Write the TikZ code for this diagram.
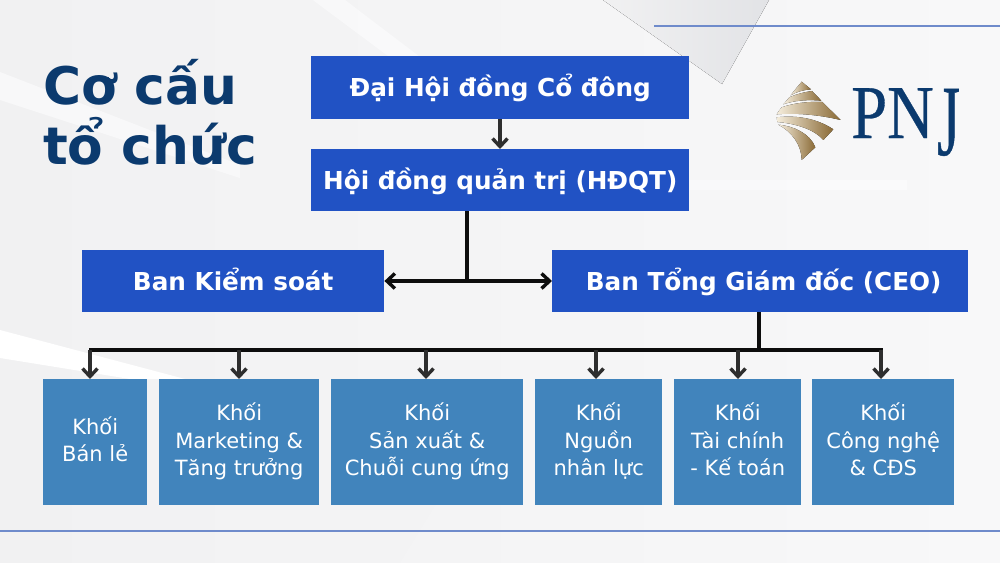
\documentclass[tikz,border=0pt]{standalone}
\usepackage{fontspec}
\setmainfont{DejaVu Sans}
\newfontfamily\logofont{Liberation Serif}
\usetikzlibrary{arrows.meta,calc}
\definecolor{bgl}{HTML}{F1F1F2}
\definecolor{bgr}{HTML}{F8F8F9}
\definecolor{bgwhite}{HTML}{FCFCFD}
\definecolor{bgshade}{HTML}{E2E3E6}
\definecolor{navy}{HTML}{0B3A6E}
\definecolor{royal}{HTML}{2152C4}
\definecolor{steel}{HTML}{4184BC}
\definecolor{rule}{HTML}{6F8BCB}
\definecolor{goldd}{HTML}{8A6A36}
\definecolor{goldl}{HTML}{F5EDDC}
\tikzset{
  topbox/.style={fill=royal,text=white,font=\fontsize{24.7}{30}\selectfont\bfseries,anchor=north west,inner sep=0pt,align=center,execute at begin node={\rule[-6pt]{0pt}{30pt}}},
  unitbox/.style={fill=steel,text=white,font=\fontsize{21}{27.5}\selectfont,anchor=north west,inner sep=0pt,align=center,execute at begin node={\rule{0pt}{21.2pt}},execute at end node={\rule[-5.7pt]{0pt}{0pt}}},
  conn/.style={line width=3.8pt,draw=black!95},
  arr/.style={line width=4pt,draw=black!82,-{Straight Barb[length=8pt,width=15pt,line width=3.4pt]}},
  dblarr/.style={line width=4pt,draw=black!95,{Straight Barb[length=8pt,width=15pt,line width=3.4pt]}-{Straight Barb[length=8pt,width=15pt,line width=3.4pt]}},
  hair/.style={line width=1.4pt,draw=rule},
  band/.style={left color=goldl,right color=goldd,draw=none},
  glow/.style={fill=bgwhite,opacity=0.65}
}
\begin{document}
\begin{tikzpicture}[x=1pt,y=-1pt]
\useasboundingbox (0,0) rectangle (1000,562);
% background
\fill[left color=bgl,right color=bgr] (0,0) rectangle (1000,562);
\fill[glow] (313,0) -- (345,0) -- (432,66) -- (412,74) -- cycle;
\fill[glow] (0,72) -- (240,165) -- (240,178) -- (0,100) -- cycle;
\fill[white] (0,330) -- (185,379) -- (130,379) -- (0,358) -- cycle;
\fill[left color=bgl,right color=bgshade] (603,0) -- (769,0) -- (722,84) -- cycle;
\fill[glow] (690,180) -- (907,180) -- (907,190) -- (690,190) -- cycle;
\fill[bgl!70!bgr] (350,505) -- (435,505) -- (400,562) -- (300,562) -- cycle;
% rules
\coordinate (r1a) at (654,26); \coordinate (r1b) at (1000,26);
\coordinate (r2a) at (0,531); \coordinate (r2b) at (1000,531);
\draw[hair] (r1a) -- (r1b);
\draw[hair] (r2a) -- (r2b);
% title
\node[anchor=west,text=navy,font=\fontsize{51.8}{60}\selectfont\bfseries,align=left,inner sep=0pt] (title) at (43,112) {Cơ cấu\\tổ chức};
% logo
\begin{scope}[shift={(750,60)},x=0.3333pt,y=-0.3333pt]
\fill[band] (155,65) -- (183,88) .. controls (160,90) and (140,95) .. (122,106) .. controls (132,92) and (145,78) .. (155,65) -- cycle;
\fill[band] (186,93) -- (214,122) .. controls (170,118) and (130,122) .. (100,133) .. controls (108,125) and (112,118) .. (118,112) .. controls (140,102) and (165,96) .. (186,93) -- cycle;
\fill[band] (217,126) -- (272,180) .. controls (210,165) and (140,158) .. (80,163) .. controls (85,155) and (90,148) .. (95,142) .. controls (135,128) and (180,124) .. (217,126) -- cycle;
\fill[band] (80,172) .. controls (140,165) and (200,175) .. (250,208) -- (220,240) .. controls (190,205) and (130,190) .. (82,186) -- cycle;
\fill[band] (85,194) .. controls (130,198) and (180,220) .. (196,262) -- (155,300) .. controls (155,255) and (125,215) .. (85,194) -- cycle;
\end{scope}
\node[anchor=base west,text=navy,inner sep=0pt,font=\logofont\fontsize{76}{76}\selectfont] (pnja) at (851,138) {\addfontfeature{FakeStretch=0.85,FakeBold=0.4}PN};
\node[anchor=base west,text=navy,inner sep=0pt,font=\logofont\fontsize{101}{101}\selectfont] (pnjb) at (937,155) {\addfontfeature{FakeStretch=0.58,FakeBold=0.4}J};
% boxes
\node[topbox,minimum width=378pt,minimum height=63pt] (dh) at (311,56) {Đại Hội đồng Cổ đông};
\node[topbox,minimum width=378pt,minimum height=62pt] (hd) at (311,149) {Hội đồng quản trị (HĐQT)};
\node[topbox,minimum width=302pt,minimum height=62pt] (ks) at (82,250) {Ban Kiểm soát};
\node[topbox,minimum width=416pt,minimum height=62pt] (ceo) at (552,250) {\hspace*{7pt}Ban Tổng Giám đốc (CEO)};
\node[unitbox,minimum width=104pt,minimum height=126pt] (u1) at (43,379) {Khối\\Bán lẻ};
\node[unitbox,minimum width=160pt,minimum height=126pt] (u2) at (159,379) {Khối\\Marketing \&\\Tăng trưởng};
\node[unitbox,minimum width=192pt,minimum height=126pt] (u3) at (331,379) {Khối\\Sản xuất \&\\Chuỗi cung ứng};
\node[unitbox,minimum width=127pt,minimum height=126pt] (u4) at (535,379) {Khối\\Nguồn\\nhân lực};
\node[unitbox,minimum width=127pt,minimum height=126pt] (u5) at (674,379) {Khối\\Tài chính\\- Kế toán};
\node[unitbox,minimum width=142pt,minimum height=126pt] (u6) at (812,379) {Khối\\Công nghệ\\\& CĐS};
% connectors
\coordinate (bus0) at (89,350); \coordinate (bus9) at (883,350);
\coordinate (busceo) at (759,350); \coordinate (t1) at (467,281);
\coordinate (b1) at (90,350); \coordinate (b2) at (239,350); \coordinate (b3) at (426,350);
\coordinate (b4) at (596,350); \coordinate (b5) at (738,350); \coordinate (b6) at (881,350);
\coordinate (topx) at (500,119);
\draw[arr] (dh.south -| topx) -- (hd.north -| topx);
\draw[conn] (hd.south -| t1) -- (t1);
\draw[dblarr] (ks.east |- t1) -- (ceo.west |- t1);
\draw[conn] (ceo.south -| busceo) -- (busceo);
\draw[conn] (bus0) -- (bus9);
\foreach \u/\b in {u1/b1,u2/b2,u3/b3,u4/b4,u5/b5,u6/b6}{\draw[arr] (\b) -- (\u.north -| \b);}
\end{tikzpicture}
\end{document}
